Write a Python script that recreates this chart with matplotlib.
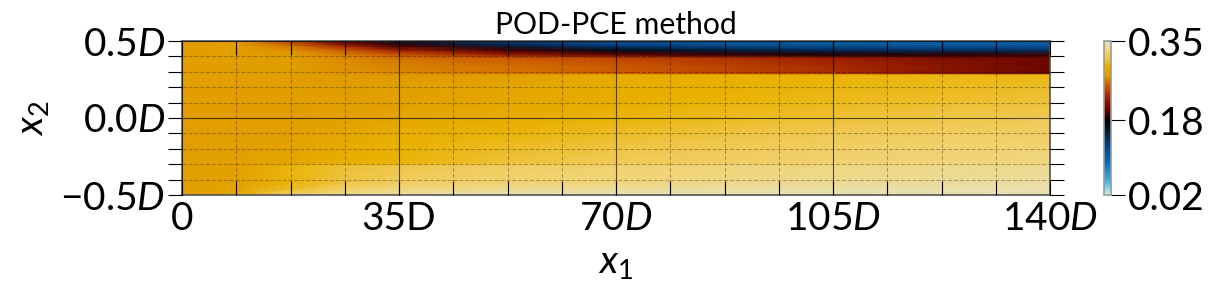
import numpy as np
import matplotlib
matplotlib.use("Agg")
import matplotlib.pyplot as plt
from matplotlib.colors import LinearSegmentedColormap

plt.rcParams["font.family"] = "Lato"
plt.rcParams["mathtext.fontset"] = "custom"
plt.rcParams["mathtext.rm"] = "Lato"
plt.rcParams["mathtext.it"] = "Lato:italic"

x_stations = [0, 8.75, 17.5, 26.25, 35, 52.5, 70, 87.5, 105, 122.5, 140]
y_rows = [-0.5, -0.46, -0.42, -0.36, -0.305, -0.295, -0.2, -0.1, 0.0, 0.1, 0.2,
          0.283, 0.29, 0.33, 0.39, 0.41, 0.44, 0.47, 0.5]

row_m50 = [.280, .288, .325, .335, .34, .345, .345, .345, .345, .345, .345]
row_m46 = [.280, .283, .306, .322, .33, .335, .338, .340, .342, .343, .344]
row_m42 = [.280, .282, .298, .312, .320, .326, .330, .333, .336, .338, .340]
row_m36 = [.280, .282, .300, .310, .316, .323, .327, .330, .333, .335, .337]
row_m31 = [.280, .282, .298, .308, .313, .320, .324, .328, .331, .333, .335]
row_m29 = [.280, .282, .286, .293, .298, .310, .318, .322, .326, .329, .331]
row_m20 = [.279, .280, .283, .292, .297, .306, .312, .317, .322, .325, .327]
row_m10 = [.279, .279, .281, .286, .293, .298, .305, .311, .316, .320, .322]
row_000 = [.279, .279, .279, .281, .285, .291, .298, .304, .309, .313, .316]
row_p10 = [.279, .279, .279, .279, .281, .288, .293, .298, .303, .307, .310]
row_p20 = [.279, .279, .279, .278, .280, .285, .292, .295, .300, .303, .306]
row_p28 = [.279, .279, .279, .276, .274, .280, .291, .295, .298, .300, .301]
row_p29 = [.279, .279, .278, .273, .270, .264, .256, .247, .236, .220, .205]
row_p33 = [.279, .279, .278, .272, .268, .262, .255, .246, .235, .220, .208]
row_p39 = [.279, .279, .277, .270, .262, .254, .246, .238, .228, .215, .207]
row_p41 = [.279, .279, .276, .266, .254, .228, .205, .193, .187, .190, .194]
row_p44 = [.279, .280, .272, .255, .228, .195, .170, .155, .145, .140, .140]
row_p47 = [.279, .281, .262, .228, .195, .155, .128, .116, .110, .108, .108]
row_p50 = [.279, .281, .240, .195, .160, .122, .108, .102, .098, .096, .096]

field = np.array([row_m50, row_m46, row_m42, row_m36, row_m31, row_m29, row_m20, row_m10,
                  row_000, row_p10, row_p20, row_p28, row_p29, row_p33, row_p39, row_p41,
                  row_p44, row_p47, row_p50])

x_major = [0, 35, 70, 105, 140]
x_labels = [r"$0$", "35D", r"$70D$", r"$105D$", r"$140D$"]
x_minor = [8.75, 17.5, 26.25, 43.75, 52.5, 61.25, 78.75, 87.5, 96.25, 113.75, 122.5, 131.25]
y_major = [-0.5, 0.0, 0.5]
y_labels = [r"$-0.5D$", r"$0.0D$", r"$0.5D$"]
y_minor = [-0.4, -0.3, -0.2, -0.1, 0.1, 0.2, 0.3, 0.4]
cbar_ticks = [0.02, 0.18, 0.35]
cbar_labels = ["0.02", "0.18", "0.35"]

vmin, vmax = 0.02, 0.35
stops = [(0.02, "#d4f0ee"), (0.05, "#45b4d4"), (0.09, "#0b6ab0"), (0.13, "#043a78"),
         (0.165, "#031020"), (0.18, "#000000"), (0.20, "#5a0000"), (0.23, "#a02000"),
         (0.255, "#cc5a00"), (0.275, "#e09a00"), (0.297, "#e9b200"),
         (0.315, "#f0c850"), (0.33, "#f0d67c"), (0.35, "#e6e4c4")]
cmap = LinearSegmentedColormap.from_list(
    "wake", [((v - vmin) / (vmax - vmin), c) for v, c in stops], N=512)

fig = plt.figure(figsize=(12.09, 2.89), dpi=100)
ax = fig.add_axes([182 / 1209, 1 - 195 / 289, 868 / 1209, 154 / 289])
mesh = ax.pcolormesh(x_stations, y_rows, field, cmap=cmap, vmin=vmin, vmax=vmax,
                     shading="gouraud", rasterized=True)

ax.set_xlim(0, 140)
ax.set_ylim(-0.5, 0.5)
ax.set_xticks(x_major)
ax.set_xticklabels(x_labels)
ax.set_yticks(y_major)
ax.set_yticklabels(y_labels)
ax.set_xticks(x_minor, minor=True)
ax.set_yticks(y_minor, minor=True)
ax.tick_params(axis="x", which="both", direction="in", top=True, bottom=True,
               length=10, width=0.8, labelsize=28, pad=4)
ax.tick_params(axis="y", which="both", direction="out", left=True, right=True,
               length=10, width=0.8, labelsize=28, pad=2)
ax.grid(which="major", color="black", lw=0.8, alpha=0.65)
ax.grid(which="minor", color="black", lw=0.8, ls="--", alpha=0.28)
ax.set_axisbelow(False)
for s in ax.spines.values():
    s.set_linewidth(1.2)
    s.set_color("#555555")

ax.set_title("POD-PCE method", fontsize=21.7, pad=5)
ax.set_xlabel(r"$x_1$", fontsize=28, labelpad=6)
ax.set_ylabel(r"$x_2$", fontsize=28, labelpad=7)

cax = fig.add_axes([1104 / 1209, 1 - 195 / 289, 7 / 1209, 154 / 289])
cbar = fig.colorbar(mesh, cax=cax)
cbar.set_ticks(cbar_ticks)
cbar.set_ticklabels(cbar_labels)
cbar.ax.tick_params(length=10, width=0.8, labelsize=28, pad=2)
cbar.outline.set_edgecolor("#999999")
cbar.outline.set_linewidth(1.2)

fig.savefig("out.png", dpi=100)
